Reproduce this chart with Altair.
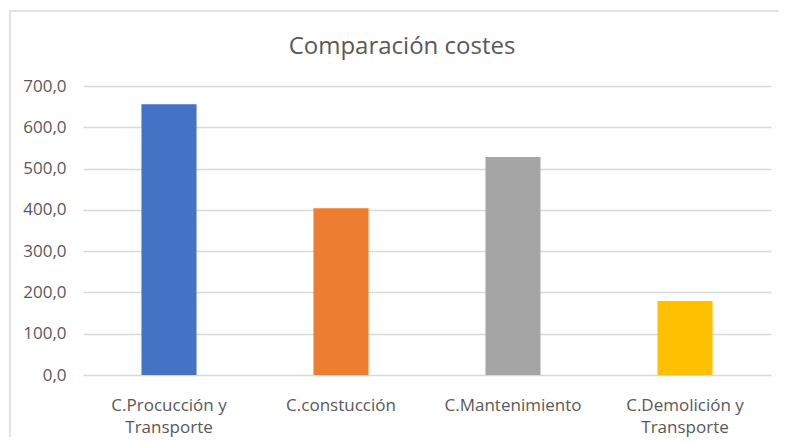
import altair as alt
import pandas as pd

categories = ["C.Procucción y Transporte", "C.constucción", "C.Mantenimiento", "C.Demolición y Transporte"]
values = [656.0, 404.0, 528.0, 179.0]
colors = ["#4472C4", "#ED7D31", "#A5A5A5", "#FFC000"]
y_ticks = [0, 100, 200, 300, 400, 500, 600, 700]

df = pd.DataFrame({"categoria": categories, "coste": values})

FONT = "Open Sans"
TXT = "#595959"

label_expr = ("indexof(datum.label, ' y ') > 0 ? "
              "[substring(datum.label, 0, indexof(datum.label, ' y ') + 2), "
              "substring(datum.label, indexof(datum.label, ' y ') + 3)] : datum.label")

bars = alt.Chart(df).mark_bar().encode(
    x=alt.X("categoria:N", sort=categories, title=None,
            scale=alt.Scale(paddingInner=0.68, paddingOuter=0.34),
            axis=alt.Axis(labelAngle=0, labelExpr=label_expr, labelLineHeight=22,
                          labelPadding=35, labelFontSize=17, labelColor=TXT, labelFont=FONT,
                          ticks=False, domain=False, grid=False, labelBaseline="alphabetic")),
    y=alt.Y("coste:Q", title=None,
            scale=alt.Scale(domain=[0, 700], nice=False),
            axis=alt.Axis(values=y_ticks, labelExpr="replace(format(datum.value, '.1f'), '.', ',')",
                          labelFontSize=17, labelColor=TXT, labelFont=FONT, labelPadding=17,
                          ticks=False, domain=False, gridColor="#D9D9D9", gridWidth=1.3)),
    color=alt.Color("categoria:N", sort=categories,
                    scale=alt.Scale(domain=categories, range=colors), legend=None),
)

border = alt.Chart(pd.DataFrame({"a": [0]})).mark_rect(
    fill=None, stroke="#D9D9D9", strokeWidth=1.5
).encode(
    x=alt.value(-73), x2=alt.value(740), y=alt.value(-75), y2=alt.value(420)
)

chart = alt.layer(border, bars).properties(
    width=688, height=289,
    autosize=alt.AutoSizeParams(type="none"),
    padding={"left": 75, "top": 78, "right": 8, "bottom": 62},
    title=alt.TitleParams("Comparación costes", fontSize=24, font=FONT, color=TXT,
                          fontWeight="normal", anchor="middle", dx=-25, offset=-68,
                          baseline="alphabetic"),
).configure_view(stroke=None)

chart.save("out.html", embed_options={"renderer": "svg", "actions": False})
